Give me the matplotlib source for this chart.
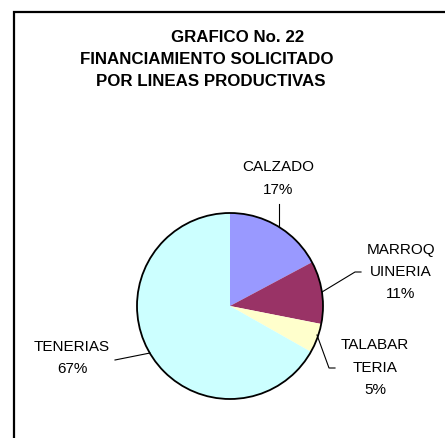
import matplotlib.pyplot as plt
from matplotlib.patches import Circle

plt.rcParams['font.family'] = ['Liberation Sans', 'DejaVu Sans']

# datos del grafico
lineas = ["CALZADO", "MARROQ\nUINERIA", "TALABAR\nTERIA", "TENERIAS"]
valores = [17.2, 10.9, 5.1, 66.8]
colores = ["#9999FF", "#993366", "#FFFFCC", "#CCFFFF"]
titulo = ["GRAFICO No. 22", "FINANCIAMIENTO SOLICITADO", "POR LINEAS PRODUCTIVAS"]

W, H = 445, 439


def gerar_grafico():
    fig = plt.figure(figsize=(W / 100, H / 100), dpi=100)
    ax = fig.add_axes([0, 0, 1, 1])

    cx, cy, r = 230, H - 307, 93
    ax.pie(valores, colors=colores, startangle=90, counterclock=False,
           center=(cx, cy), radius=r, wedgeprops={'linewidth': 0})
    ax.add_patch(Circle((cx, cy), r, fill=False, edgecolor='black', lw=1.3))

    ax.set_xlim(0, W)
    ax.set_ylim(0, H)
    ax.set_aspect('equal')
    ax.axis('off')

    # marco
    ax.plot([14, 14, W + 5], [-5, H - 13, H - 13], color='black', lw=1.6,
            solid_joinstyle='miter', clip_on=False)

    # titulo
    pos_titulo = [(238, 37), (207, 59), (211, 81)]
    for t, (x, y) in zip(titulo, pos_titulo):
        ax.text(x, H - y, t, ha='center', va='center', fontsize=12.2,
                fontweight='bold')

    # etiquetas
    pos_etiq = [(278, [167, 190]), (401, [250, 272, 294]),
                (375, [345, 368, 390]), (72, [347, 369])]
    for nome, v, (x, ys) in zip(lineas, valores, pos_etiq):
        partes = nome.split("\n") + [f"{v:.0f}%"]
        for p, y in zip(partes, ys):
            ax.text(x, H - y, p, ha='center', va='center', fontsize=11)

    # lineas guia
    guias = [
        ([279, 279], [205, 227]),
        ([322, 355, 361], [293, 273, 273]),
        ([317, 329, 335], [336, 369, 369]),
        ([115, 150], [361, 354]),
    ]
    for xs, ys in guias:
        ax.plot(xs, [H - y for y in ys], color='black', lw=0.8)

    fig.savefig("out.png", dpi=100)


if __name__ == "__main__":
    gerar_grafico()
